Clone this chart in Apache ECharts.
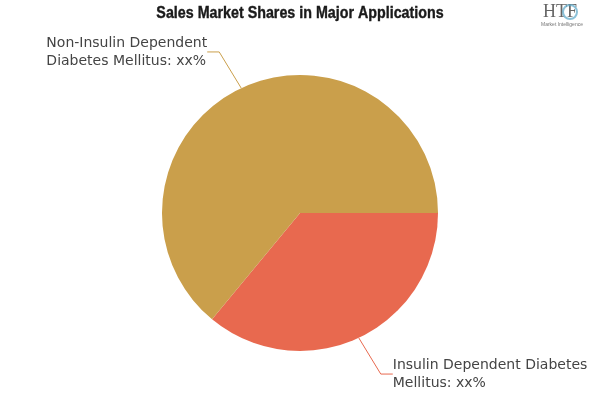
<!DOCTYPE html>
<html>
<head>
<meta charset="utf-8">
<script src="https://cdn.jsdelivr.net/npm/echarts@6/dist/echarts.min.js"></script>
<style>
  html, body { margin: 0; padding: 0; background: #fff; }
  #chart { width: 600px; height: 400px; }
</style>
</head>
<body>
<div id="chart"></div>
<script>
// values (labels show xx% in the original)
var categories = ['Insulin Dependent Diabetes\nMellitus: xx%', 'Non-Insulin Dependent\nDiabetes Mellitus: xx%']
var shares = [36, 64]
var colors = ['#E8694F', '#CA9F4B']

var chart = echarts.init(document.getElementById('chart'))

chart.setOption({
  animation: false,
  graphic: [
    {
      // condensed heavy title
      type: 'text',
      x: 300,
      y: 13,
      scaleX: 0.84,
      style: {
        text: 'Sales Market Shares in Major Applications',
        fontFamily: '"Liberation Sans", sans-serif',
        fontWeight: 'bold',
        fontSize: 17,
        fill: '#1a1a1a',
        stroke: '#1a1a1a',
        lineWidth: 0.4,
        align: 'center',
        verticalAlign: 'middle'
      }
    },
    {
      type: 'text',
      left: 543,
      top: 3,
      style: { text: 'HTF', fontFamily: '"Liberation Serif", serif', fontSize: 18, fill: '#666' }
    },
    {
      type: 'text',
      left: 541,
      top: 22,
      style: { text: 'Market Intelligence', fontFamily: 'sans-serif', fontSize: 5, fill: '#777' }
    },
    {
      type: 'circle',
      shape: { cx: 570, cy: 12, r: 7 },
      style: { fill: 'none', stroke: '#5aa6c8', lineWidth: 2, opacity: 0.7 }
    }
  ],
  series: [
    {
      type: 'pie',
      center: [300, 213],
      radius: 138,
      startAngle: 0,
      clockwise: true,
      data: categories.map(function (name, i) {
        return { name: name, value: shares[i], itemStyle: { color: colors[i] } }
      }),
      label: {
        show: true,
        formatter: '{b}',
        fontFamily: '"DejaVu Sans", sans-serif',
        fontSize: 14,
        lineHeight: 18,
        color: '#444'
      },
      labelLine: {
        length: 40,
        length2: 12,
        lineStyle: { width: 1 }
      },
      labelLayout: function (params) {
        // keep the label where it is but left-align its lines
        return { x: params.labelRect.x, align: 'left' }
      },
      emphasis: { disabled: true }
    }
  ]
})
</script>
</body>
</html>
